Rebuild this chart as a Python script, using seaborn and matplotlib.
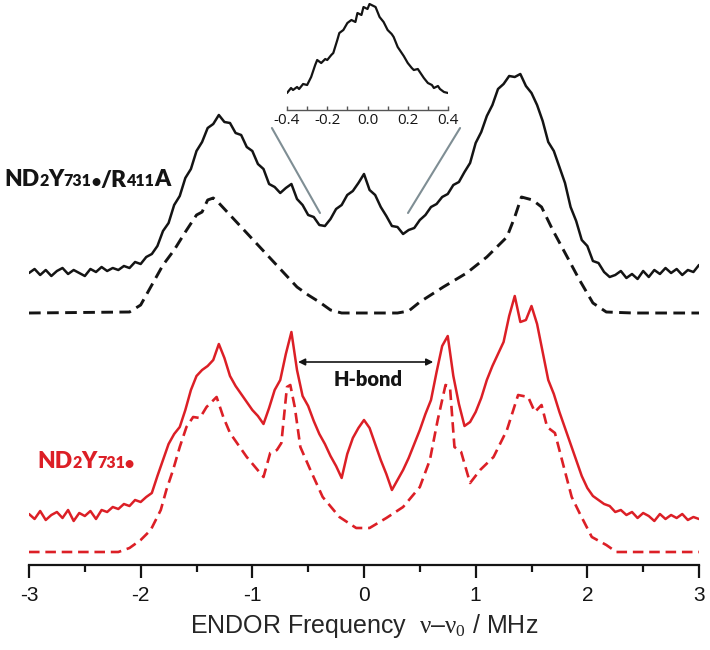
import numpy as np
import matplotlib
matplotlib.use("Agg")
import matplotlib.pyplot as plt
import seaborn as sns
from matplotlib.offsetbox import TextArea, HPacker, AnnotationBbox
from matplotlib.patches import ConnectionPatch

# ------------------------------------------------------------------
# Data (intensities in arbitrary units,
# measured from each trace's own baseline)
# ------------------------------------------------------------------
freq = np.round(np.arange(-3.0, 3.0001, 0.05), 2)   # spectrometer grid, MHz

# ND2Y731*/R411A, experiment (black solid)
r411a_exp = [0, 4, -2, 3, -3, 2, 5, -1, 3, 0, -3, 4, 1, 6, 2, 5, 3, 7,
             5, 11, 9, 16, 19, 27, 42, 50, 68, 77,
             95, 104, 122, 131, 145, 149, 158, 151, 150, 140,
             138, 126, 122, 109, 104, 89, 86, 80, 85, 89,
             74, 68, 58, 56, 48, 47, 54, 64, 68, 78,
             82, 90, 99, 83, 78, 66, 57, 47, 46, 39,
             43, 45, 53, 58, 66, 69, 76, 79, 88, 91,
             101, 110, 130, 141, 157, 168, 184, 189, 197, 196,
             199, 187, 180, 168, 152, 131, 122, 106, 90, 66,
             52, 33, 27, 12, 10, 1, -4, -2, 2, -5,
             -1, -6, 2, -4, 3, -1, 5, 0, 4, -2,
             3, 1, 8]

# ND2Y731*, experiment (red solid)
wt_exp = [2, -3, 5, -4, 1, 4, -2, 6, -5, 3, 0, 5, -3,
          6, 4, 9, 7, 12, 10, 16, 14, 19, 23,
          40, 56, 72, 82, 89, 106, 126, 140, 146, 150,
          156, 172, 158, 140, 130, 122, 114, 106, 100, 92,
          108, 126, 136, 162, 184, 146, 120, 110, 95, 82,
          72, 60, 50, 38, 62, 78, 88, 96, 88, 72,
          56, 42, 26, 36, 46, 58, 72, 86, 102, 116,
          144, 170, 180, 140, 112, 90, 94, 104, 118, 136,
          150, 162, 174, 200, 220, 194, 196, 210, 192, 164,
          136, 122, 104, 88, 72, 56, 40, 28, 20, 16,
          12, 10, 4, 6, 1, 4, -2, 3, 0, -5,
          2, -3, 1, -2, 2, -4, -1, -3]

# simulations (dashed)
r411a_sim_x = [-3.0, -2.1, -2.0, -1.9, -1.8, -1.7, -1.6, -1.5, -1.45, -1.4, -1.35, -1.3,
               -0.6, -0.5, -0.4, -0.3, -0.2, 0.3, 0.4, 0.5, 0.71, 0.92, 1.10, 1.28, 1.35,
               1.41, 1.51, 1.59, 1.69, 1.82, 1.93, 2.05, 2.17, 2.41, 3.0]
r411a_sim = [0, 1, 8, 28, 48, 63, 81, 98, 101, 113, 115, 110,
             26, 18, 11, 3, 0, 0, 2, 11, 26, 40, 56, 76, 96,
             116, 113, 106, 83, 56, 33, 10, 1, 0, 0]

wt_sim_x = [-3.0, -2.2, -2.1, -2.0, -1.91, -1.82, -1.77, -1.71, -1.65, -1.59, -1.53, -1.47,
            -1.41, -1.32, -1.26, -1.20, -1.05, -0.90, -0.84, -0.78, -0.74, -0.69, -0.66,
            -0.62, -0.57, -0.48, -0.37, -0.22, -0.07, 0.05, 0.20, 0.35, 0.50, 0.59, 0.66,
            0.73, 0.77, 0.81, 0.87, 0.95, 1.04, 1.16, 1.28, 1.38, 1.47, 1.53, 1.59, 1.64,
            1.71, 1.78, 1.86, 1.93, 2.04, 2.17, 2.26, 3.0]
wt_sim = [0, 0, 4, 12, 22, 42, 62, 82, 105, 125, 135, 134,
          145, 155, 135, 119, 95, 75, 99, 102, 109, 165, 167,
          145, 105, 82, 55, 35, 24, 24, 34, 45, 65, 92, 132,
          167, 165, 105, 100, 69, 82, 95, 122, 157, 155, 140, 147, 125,
          119, 89, 55, 39, 15, 7, 0, 0]

# inset: central region of the R411A spectrum
inset_x = [-0.40, -0.38, -0.37, -0.35, -0.34, -0.32, -0.30, -0.28, -0.26, -0.25, -0.23,
           -0.21, -0.20, -0.18, -0.17, -0.15, -0.14, -0.12, -0.10, -0.08, -0.06, -0.05,
           -0.03, -0.02, 0.0, 0.01, 0.03, 0.04, 0.06, 0.08, 0.10, 0.12, 0.13, 0.15, 0.16,
           0.18, 0.20, 0.22, 0.23, 0.25, 0.26, 0.28, 0.30, 0.32, 0.33, 0.35, 0.36, 0.38, 0.40]
inset_y = [17, 22, 20, 23, 21, 26, 25, 33, 45, 50, 47, 51, 50, 55, 57, 70, 77, 80, 87, 90,
           88, 97, 95, 103, 101, 106, 104, 103, 93, 88, 80, 76, 73, 63, 60, 54, 47, 42, 40,
           41, 38, 32, 27, 25, 22, 24, 21, 18, 17]

# vertical stacking of the four traces
offsets = {"r411a_exp": 292, "r411a_sim": 252, "wt_exp": 49, "wt_sim": 13}

assert len(freq) == len(r411a_exp) == len(wt_exp)

# ------------------------------------------------------------------
# Style
# ------------------------------------------------------------------
sns.set_style("white")
plt.rcParams["font.family"] = ["Liberation Sans", "DejaVu Sans"]
plt.rcParams["mathtext.fontset"] = "custom"
plt.rcParams["mathtext.rm"] = "Liberation Serif"
plt.rcParams["mathtext.it"] = "Liberation Serif"
plt.rcParams["axes.unicode_minus"] = False

RED = "#dc1f26"
BLACK = "#141414"
DASH = (0, (4, 2.2))

fig = plt.figure(figsize=(7.1, 6.5), dpi=100)
ax = fig.add_axes([29 / 710, 85 / 650, 670 / 710, 565 / 650])

sns.lineplot(x=freq, y=np.array(r411a_exp) + offsets["r411a_exp"], ax=ax,
             color=BLACK, lw=1.8)
sns.lineplot(x=r411a_sim_x, y=np.array(r411a_sim) + offsets["r411a_sim"], ax=ax,
             color=BLACK, lw=2.1, linestyle=DASH)
sns.lineplot(x=freq, y=np.array(wt_exp) + offsets["wt_exp"], ax=ax,
             color=RED, lw=1.8)
sns.lineplot(x=wt_sim_x, y=np.array(wt_sim) + offsets["wt_sim"], ax=ax,
             color=RED, lw=1.9, linestyle=DASH)

ax.set_xlim(-3, 3)
ax.set_ylim(0, 565)
ax.set_yticks([])
for s in ["left", "right", "top"]:
    ax.spines[s].set_visible(False)
ax.spines["bottom"].set_linewidth(1.6)
ax.spines["bottom"].set_color(BLACK)
ax.set_xticks([-3, -2, -1, 0, 1, 2, 3])
ax.set_xticks(np.arange(-2.5, 3, 1.0), minor=True)
ax.tick_params(axis="x", which="major", direction="out", length=9, width=1.6,
               labelsize=15, pad=6, colors=BLACK, bottom=True)
ax.tick_params(axis="x", which="minor", direction="out", length=5, width=1.6,
               colors=BLACK, bottom=True)
ax.set_xlabel("ENDOR Frequency  $\\mathrm{ν}$–$\\mathrm{ν}_0$ / MHz",
              fontsize=18, labelpad=5)

# H-bond arrow
ax.annotate("", xy=(-0.59, 203), xytext=(0.62, 203),
            arrowprops=dict(arrowstyle="<|-|>", color=BLACK, lw=1.2,
                            mutation_scale=10, shrinkA=0, shrinkB=0))
ax.text(0.04, 185, "H-bond", ha="center", va="center", fontsize=14.5,
        fontweight="heavy", family="Lato", color=BLACK)

# inset
axin = fig.add_axes([287 / 710, 540 / 650, 161 / 710, 110 / 650])
axin.set_facecolor("none")
sns.lineplot(x=inset_x, y=inset_y, ax=axin, color=BLACK, lw=1.6)
axin.set_xlim(-0.4, 0.4)
axin.set_ylim(0, 110)
axin.set_yticks([])
for s in ["left", "right", "top"]:
    axin.spines[s].set_visible(False)
axin.spines["bottom"].set_linewidth(1.0)
axin.spines["bottom"].set_color("#555555")
axin.set_xticks([-0.4, -0.2, 0.0, 0.2, 0.4])
axin.set_xticklabels(["-0.4", "-0.2", "0.0", "0.2", "0.4"], family="Open Sans")
axin.set_xticks([-0.3, -0.1, 0.1, 0.3], minor=True)
axin.tick_params(axis="x", which="both", direction="in", length=3, width=1.0,
                 labelsize=11, pad=2, colors="#555555", labelcolor=BLACK, bottom=True)

# grey zoom lines from inset to main spectrum
for xa, xb in [(-0.475, -0.394), (0.46, 0.394)]:
    con = ConnectionPatch(xyA=(xa, -18), coordsA=axin.transData,
                          xyB=(xb, 352), coordsB=ax.transData,
                          color="#7f8e94", lw=1.5)
    fig.add_artist(con)


# sample labels with small numerals
def chem_label(parts, color, xy):
    boxes = []
    for txt, small in parts:
        boxes.append(TextArea(txt, textprops=dict(fontsize=11.5 if small else 16.5,
                                                  fontweight="heavy", color=color,
                                                  family="Lato")))
    pack = HPacker(children=boxes, align="baseline", pad=0, sep=0)
    ab = AnnotationBbox(pack, xy, xycoords="figure fraction", box_alignment=(0, 0.5),
                        frameon=False, pad=0)
    fig.add_artist(ab)


chem_label([("ND", False), ("2", True), ("Y", False), ("731", True), ("•", True),
            ("/R", False), ("411", True), ("A", False)], BLACK, (4 / 710, 1 - 180 / 650))
chem_label([("ND", False), ("2", True), ("Y", False), ("731", True), ("•", True)],
           RED, (37 / 710, 1 - 462 / 650))

fig.savefig("out.png", dpi=100)
